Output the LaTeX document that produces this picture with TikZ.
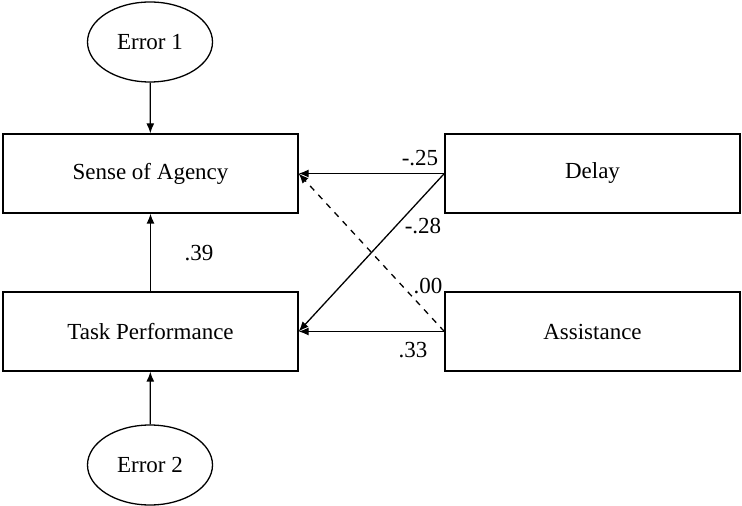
\documentclass[tikz,border=0pt]{standalone}
\usepackage{fontspec}
\setmainfont{Liberation Serif}
\usepackage{tikz}
\usetikzlibrary{arrows.meta,positioning,shapes.geometric}

\begin{document}
\begin{tikzpicture}[
    x=0.5pt, y=-0.5pt,
    every node/.style={font=\fontsize{11.5}{13}\selectfont},
    varbox/.style={draw, line width=0.65pt, minimum width=147.5pt, minimum height=39.5pt, inner sep=0pt},
    errnode/.style={draw, ellipse, line width=0.65pt, minimum width=62.5pt, minimum height=40pt, inner sep=0pt},
    path/.style={line width=0.65pt, -{Latex[length=5pt,width=4pt]}},
    coef/.style={inner sep=0pt}
]
\useasboundingbox (0,0) rectangle (742,506);

\node[errnode] (err1) at (150,42) {Error 1};
\node[varbox] (agency) at (150.5,173.5) {Sense of Agency};
\node[varbox] (perf) at (150.5,331.5) {Task Performance};
\node[errnode] (err2) at (150,465) {Error 2};
\node[varbox] (delay) at (592.5,173.5) {Delay};
\node[varbox] (assist) at (592.5,331.5) {Assistance};

\draw[path] (err1) -- (agency);
\draw[path] (err2) -- (perf);
\draw[path] (perf) -- (agency);
\draw[path] (delay.west) -- (agency.east);
\draw[path] (delay.west) -- (perf.east);
\draw[path, dashed] (assist.west) -- (agency.east);
\draw[path] (assist.west) -- (perf.east);

\node[coef] (c39) at (199,253) {.39};
\node[coef] (c25) at (420,158) {-.25};
\node[coef] (c28) at (423,226) {-.28};
\node[coef] (c00) at (428,286) {.00};
\node[coef] (c33) at (413,350) {.33};
\end{tikzpicture}
\end{document}
